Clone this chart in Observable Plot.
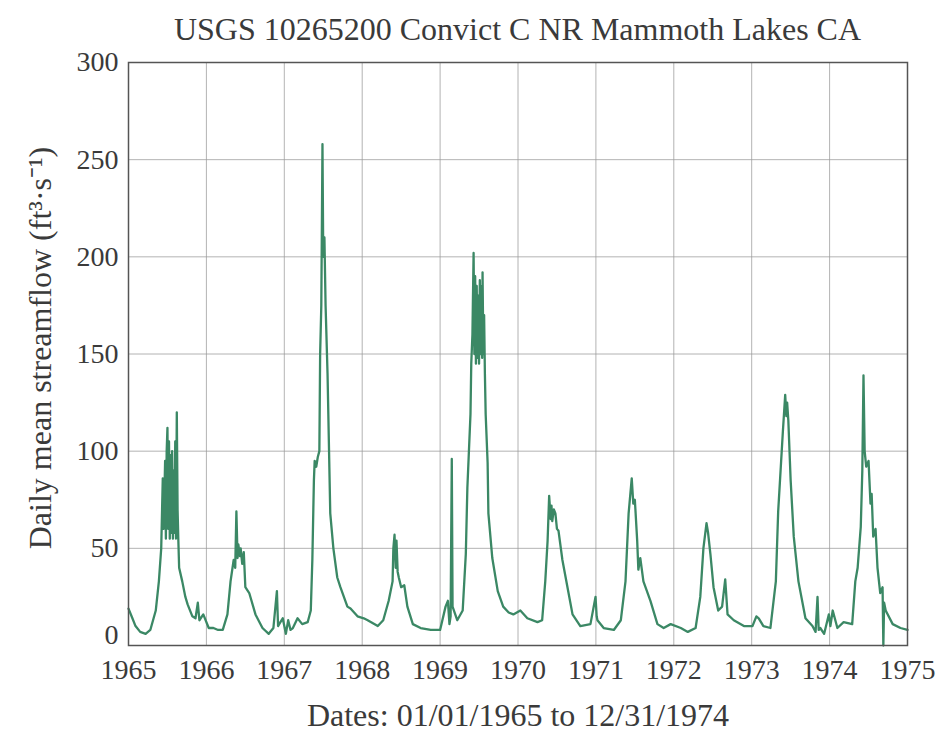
<!DOCTYPE html>
<html>
<head>
<meta charset="utf-8">
<script src="https://cdn.jsdelivr.net/npm/d3@7"></script>
<script src="https://cdn.jsdelivr.net/npm/@observablehq/plot@0.6"></script>
<style>
  body { margin: 0; background: white; }
  #title { width: 942px; height: 50px; box-sizing: border-box; padding-left: 128px; padding-right: 35px;
    text-align: center; font-family: "Liberation Serif", serif; font-size: 32px; color: #3a3a3a; line-height: 58px; white-space: nowrap; }
</style>
</head>
<body>
<div id="title">USGS 10265200 Convict C NR Mammoth Lakes CA</div>
<div id="chart"></div>
<script>
const titleText = "USGS 10265200 Convict C NR Mammoth Lakes CA";
const yLabel = "Daily mean streamflow (ft³·s⁻¹)";
const xLabel = "Dates: 01/01/1965 to 12/31/1974";
const xTicks = [1965, 1966, 1967, 1968, 1969, 1970, 1971, 1972, 1973, 1974, 1975];
const yTicks = [0, 50, 100, 150, 200, 250, 300];

// decimal-year dates
const dates = [
1965.00,1965.05,1965.09,1965.15,1965.22,1965.28,1965.35,1965.39,1965.42,1965.44,1965.45,1965.46,1965.47,1965.48,1965.49,1965.50,1965.51,1965.52,1965.53,1965.54,1965.55,1965.56,1965.57,1965.58,1965.59,1965.60,1965.61,1965.62,1965.63,1965.64,1965.65,1965.69,1965.73,1965.76,1965.82,1965.86,1965.89,1965.91,1965.96,
1966.03,1966.09,1966.15,1966.21,1966.27,1966.31,1966.35,1966.37,1966.385,1966.40,1966.41,1966.43,1966.44,1966.46,1966.48,1966.50,1966.55,1966.63,1966.72,1966.80,1966.86,1966.905,1966.92,1966.95,1966.98,
1967.02,1967.05,1967.08,1967.11,1967.17,1967.23,1967.30,1967.34,1967.36,1967.38,1967.39,1967.41,1967.43,1967.45,1967.46,1967.475,1967.49,1967.50,1967.515,1967.53,1967.555,1967.59,1967.63,1967.68,1967.72,1967.81,1967.85,1967.94,
1968.02,1968.07,1968.20,1968.27,1968.34,1968.39,1968.40,1968.415,1968.43,1968.44,1968.455,1968.47,1968.50,1968.54,1968.58,1968.65,1968.75,1968.88,
1969.00,1969.07,1969.10,1969.12,1969.135,1969.15,1969.16,1969.22,1969.29,1969.33,1969.35,1969.39,1969.40,1969.415,1969.43,1969.44,1969.45,1969.46,1969.47,1969.48,1969.49,1969.50,1969.51,1969.52,1969.53,1969.54,1969.545,1969.555,1969.565,1969.575,1969.585,1969.61,1969.62,1969.67,1969.74,1969.81,1969.88,1969.94,
1970.03,1970.12,1970.25,1970.31,1970.35,1970.38,1970.40,1970.42,1970.43,1970.44,1970.46,1970.48,1970.50,1970.52,1970.57,1970.635,1970.70,1970.80,1970.93,1970.995,
1971.01,1971.02,1971.10,1971.23,1971.32,1971.38,1971.42,1971.46,1971.48,1971.50,1971.53,1971.545,1971.57,1971.61,1971.70,1971.79,1971.87,1971.96,
1972.09,1972.18,1972.28,1972.34,1972.38,1972.42,1972.44,1972.47,1972.51,1972.57,1972.62,1972.66,1972.69,1972.77,1972.90,
1973.01,1973.06,1973.09,1973.15,1973.24,1973.31,1973.34,1973.40,1973.43,1973.445,1973.455,1973.47,1973.50,1973.54,1973.60,1973.69,1973.78,1973.82,1973.845,1973.86,1973.88,1973.93,1973.99,
1974.01,1974.04,1974.10,1974.18,1974.29,1974.33,1974.36,1974.40,1974.42,1974.435,1974.45,1974.47,1974.50,1974.525,1974.54,1974.56,1974.59,1974.615,1974.65,1974.68,1974.69,1974.70,1974.72,1974.81,1974.91,1975.00
];
// daily mean streamflow, ft³/s
const flows = [
19,14,10,7,6,8,18,33,50,86,60,76,95,55,100,112,60,105,55,98,58,100,55,90,58,105,55,120,70,54,40,33,25,21,15,14,22,13,16,
9,9,8,8,16,33,44,40,69,45,52,46,50,42,48,30,27,16,9,6,9,28,10,12,14,
6,13,8,9,14,11,12,18,44,85,95,92,97,100,150,175,258,200,210,175,140,68,50,35,30,20,19,15,
14,13,10,13,23,33,50,57,40,54,38,35,30,31,20,11,9,8,
8,20,23,11,15,96,20,13,18,47,81,119,145,160,202,150,190,145,185,148,180,145,188,150,185,148,192,150,170,140,119,94,68,45,28,20,17,16,
18,14,12,13,33,54,77,65,72,64,70,68,60,59,44,30,16,10,11,25,
15,13,9,8,13,33,68,86,73,75,54,39,45,33,23,11,9,11,
9,7,9,25,50,63,58,47,30,18,20,34,16,13,10,
10,15,14,10,9,33,69,110,129,118,125,116,85,56,33,14,10,7,25,8,9,6,16,
10,18,9,12,11,33,40,61,90,139,100,92,95,73,78,56,60,40,27,30,0,22,18,11,9,8
];

const data = dates.map((t, i) => ({t, q: flows[i]}));
const serif = "Liberation Serif, serif";
const ink = "#3a3a3a";

const chart = Plot.plot({
  width: 942,
  height: 683,
  marginLeft: 128,
  marginRight: 35,
  marginTop: 12,
  marginBottom: 88,
  style: {fontFamily: serif, background: "white", color: ink, overflow: "visible"},
  x: {domain: [1965, 1975]},
  y: {domain: [0, 300]},
  marks: [
    Plot.gridX(xTicks, {stroke: "#999", strokeOpacity: 0.75, strokeWidth: 1}),
    Plot.gridY(yTicks, {stroke: "#999", strokeOpacity: 0.75, strokeWidth: 1}),
    Plot.line(data, {x: "t", y: "q", stroke: "#3b8865", strokeWidth: 2.3, strokeLinejoin: "round"}),
    Plot.frame({stroke: "#555", strokeWidth: 1.5}),
    Plot.axisX({ticks: xTicks, tickFormat: d => String(d), tickSize: 0, tickPadding: 14, fontSize: 28, label: null}),
    Plot.axisY({ticks: yTicks.filter(d => d > 0), tickSize: 0, tickPadding: 10, fontSize: 28, label: null}),
    Plot.axisY({ticks: [0], tickSize: 0, tickPadding: 10, fontSize: 28, dy: -10, label: null}),
    Plot.text([xLabel], {frameAnchor: "bottom", dy: 80, fontSize: 32, fontFamily: serif, fill: ink}),
    Plot.text([yLabel], {frameAnchor: "left", textAnchor: "middle", dx: -88, dy: -6, rotate: -90, fontSize: 32, fontFamily: serif, fill: ink})
  ]
});
document.getElementById("chart").appendChild(chart);
</script>
</body>
</html>
